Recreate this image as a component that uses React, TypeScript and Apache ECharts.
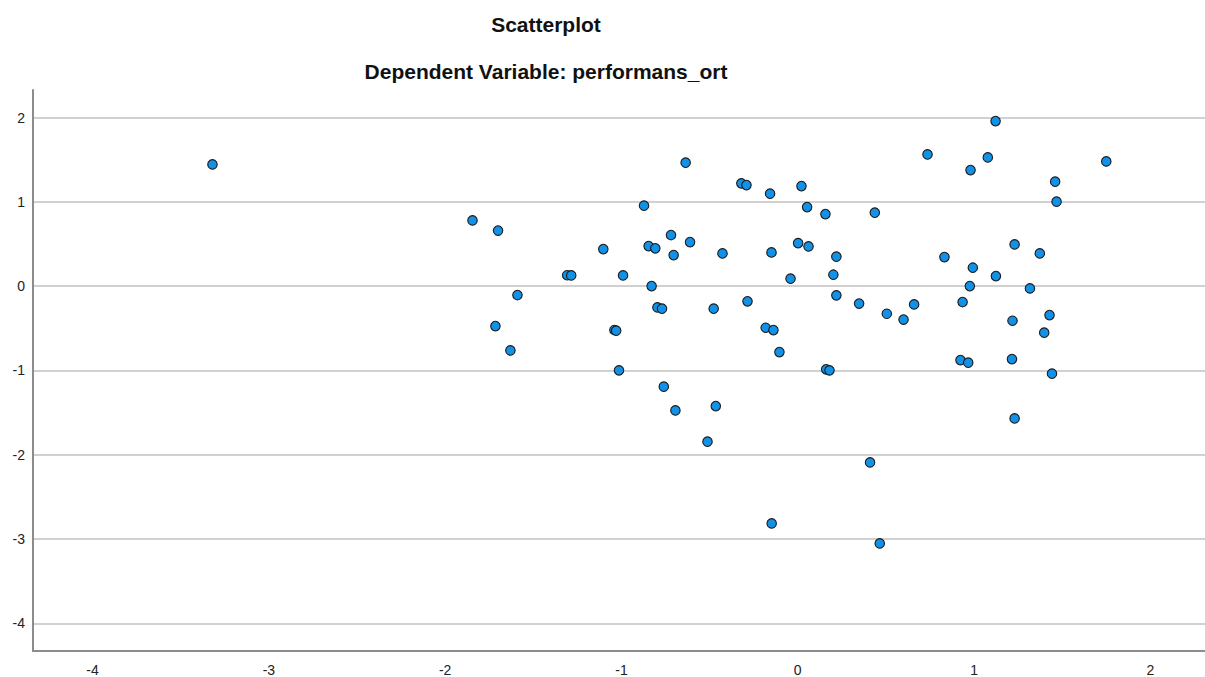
import React, { useEffect, useRef } from "react";
import * as echarts from "echarts";

const titleText = "Scatterplot";
const subtitleText = "Dependent Variable: performans_ort";

const xTicks = [-4, -3, -2, -1, 0, 1, 2];
const yTicks = [-4, -3, -2, -1, 0, 1, 2];

const xValues = [
  -3.32, -1.845, -1.7, -1.59, -1.715, -1.63, -1.308, -1.285, -1.103, -0.636,
  -0.32, -0.291, -0.157, 0.021, -0.872, 0.053, 0.157, 0.437, -0.719, -0.846,
  -0.808, -0.611, -0.704, -0.427, -0.149, 0.002, 0.061, 0.219, -0.991, -0.041,
  0.202, -0.829, 0.219, 0.348, -0.796, -0.77, -0.477, -0.285, -1.04, -1.03,
  -0.182, -0.138, -0.104, -1.014, 0.161, 0.18, -0.76, -0.694, -0.465, -0.512,
  0.41, -0.148, 0.465, 0.505, 0.6, 1.122, 0.736, 1.078, 0.98, 1.75,
  1.46, 1.468, 1.23, 1.373, 0.832, 0.993, 1.124, 0.976, 1.317, 0.935,
  0.66, 1.218, 1.428, 1.398, 0.923, 0.967, 1.215, 1.442, 1.23,
];

const yValues = [
  1.445, 0.78, 0.66, -0.105, -0.473, -0.762, 0.13, 0.128, 0.44, 1.466,
  1.22, 1.2, 1.098, 1.188, 0.955, 0.939, 0.856, 0.872, 0.607, 0.476,
  0.449, 0.523, 0.369, 0.389, 0.401, 0.511, 0.472, 0.35, 0.128, 0.089,
  0.136, 0.001, -0.109, -0.206, -0.252, -0.267, -0.267, -0.18, -0.52, -0.528,
  -0.493, -0.521, -0.782, -0.999, -0.987, -0.999, -1.192, -1.474, -1.423, -1.845,
  -2.091, -2.815, -3.052, -0.327, -0.396, 1.959, 1.564, 1.528, 1.378, 1.481,
  1.24, 1.003, 0.496, 0.389, 0.345, 0.219, 0.12, 0.001, -0.026, -0.188,
  -0.216, -0.41, -0.343, -0.552, -0.877, -0.908, -0.865, -1.038, -1.569,
];

const FONT = '"Liberation Sans", Arial, sans-serif';

export default function App() {
  const ref = useRef<HTMLDivElement>(null);

  useEffect(() => {
    if (!ref.current) return;
    const chart = echarts.init(ref.current, null, { renderer: "svg" });
    const points = xValues.map((x, i) => [x, yValues[i]]);
    chart.setOption({
      animation: false,
      backgroundColor: "#ffffff",
      graphic: [
        {
          type: "text",
          x: 546,
          y: 24,
          style: {
            text: titleText,
            font: `bold 21px ${FONT}`,
            fill: "#111111",
            textAlign: "center",
            textVerticalAlign: "middle",
          },
        },
        {
          type: "text",
          x: 546,
          y: 71,
          style: {
            text: subtitleText,
            font: `bold 21px ${FONT}`,
            fill: "#111111",
            textAlign: "center",
            textVerticalAlign: "middle",
          },
        },
      ],
      grid: { left: 33, right: 0, top: 90, bottom: 26, containLabel: false },
      xAxis: {
        type: "value",
        min: -4.338,
        max: 2.31,
        axisLine: { show: true, onZero: false, lineStyle: { color: "#8c8c8c", width: 2 } },
        axisTick: { show: false, customValues: xTicks },
        splitLine: { show: false },
        axisLabel: {
          customValues: xTicks,
          color: "#222222",
          fontSize: 14,
          fontFamily: FONT,
          margin: 12,
        },
      },
      yAxis: {
        type: "value",
        min: -4.329,
        max: 2.328,
        axisLine: { show: true, onZero: false, lineStyle: { color: "#8c8c8c", width: 2 } },
        axisTick: { show: false, customValues: yTicks },
        splitLine: { show: true, lineStyle: { color: "#c2c2c2", width: 1.6 } },
        axisLabel: {
          customValues: yTicks,
          color: "#222222",
          fontSize: 14,
          fontFamily: FONT,
          margin: 8,
        },
      },
      series: [
        {
          type: "scatter",
          data: points,
          symbol: "circle",
          symbolSize: 9.5,
          itemStyle: { color: "#1192e8", borderColor: "#1a1a1a", borderWidth: 1.1, opacity: 1 },
        },
      ],
    });
    return () => chart.dispose();
  }, []);

  return (
    <div
      ref={ref}
      style={{ position: "fixed", left: 0, top: 0, width: 1205, height: 677, background: "#fff" }}
    />
  );
}
